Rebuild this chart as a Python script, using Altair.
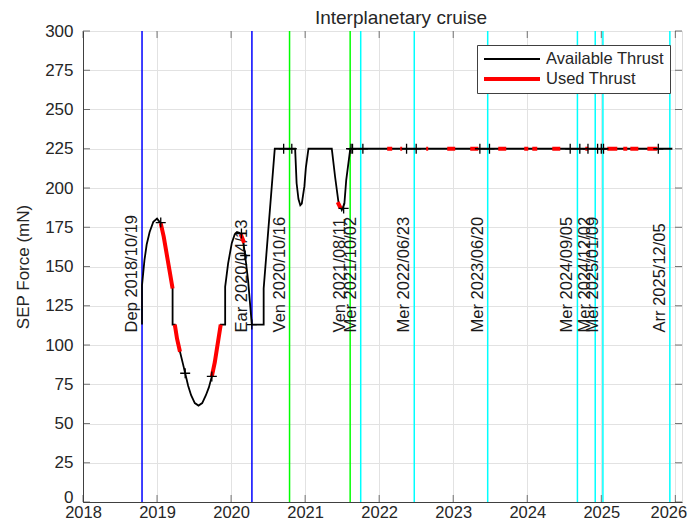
import altair as alt
import pandas as pd

FONT = "Liberation Sans"

# ---------------- data ----------------
# Available thrust (decimal year, mN)
avail_x = [2018.797, 2018.797, 2018.83, 2018.86, 2018.90, 2018.95, 2019.00, 2019.05, 2019.09,
           2019.13, 2019.17, 2019.21, 2019.21, 2019.24, 2019.27, 2019.31, 2019.35, 2019.38,
           2019.42, 2019.46, 2019.51, 2019.56, 2019.61, 2019.66, 2019.70, 2019.74, 2019.78,
           2019.81, 2019.86, 2019.92, 2019.92, 2019.96, 2020.01, 2020.05, 2020.08, 2020.11,
           2020.14, 2020.16, 2020.19, 2020.23, 2020.28, 2020.44, 2020.44, 2020.59, 2020.865,
           2020.885, 2020.91, 2020.935, 2020.955, 2020.99, 2021.01, 2021.045, 2021.36,
           2021.405, 2021.45, 2021.495, 2021.53, 2021.555, 2021.61, 2025.96]
avail_y = [113, 138, 154, 164, 172, 178.5, 180.5, 177.5, 169,
           158, 147, 136, 113, 113, 104, 95.7, 88, 82,
           74, 68, 63, 61.4, 63, 68, 73, 80, 89,
           98, 113, 113, 137, 152, 165, 170.5, 172, 171.5,
           170, 167, 157, 141, 113, 113, 136, 225, 225,
           203, 193, 189, 190, 201, 213, 225, 225,
           207, 191, 186, 190, 205, 225, 225]

# Used thrust on the curved part (segment id, decimal year, mN)
used_seg = [1, 1, 1, 1, 1, 2, 2, 2, 3, 3, 3, 3, 4, 4, 4, 5, 5]
used_x = [2019.05, 2019.09, 2019.13, 2019.17, 2019.21,
          2019.24, 2019.27, 2019.31,
          2019.74, 2019.78, 2019.81, 2019.86,
          2020.13, 2020.16, 2020.175,
          2021.44, 2021.48]
used_y = [177.5, 169, 158, 147, 136,
          113, 104, 95.7,
          80, 89, 98, 113,
          170.5, 167, 165,
          191, 187]

# Used thrust on the 225 mN plateau (start, end)
flat_start = [2022.108, 2022.284, 2022.635, 2022.919, 2023.230, 2023.608, 2023.959,
              2024.068, 2024.338, 2024.784, 2025.081, 2025.297, 2025.392, 2025.622]
flat_end = [2022.176, 2022.311, 2022.662, 2023.027, 2023.338, 2023.716, 2024.014,
            2024.135, 2024.446, 2024.824, 2025.216, 2025.351, 2025.500, 2025.757]
flat_level = 225

# '+' markers
mark_x = [2019.05, 2019.38, 2019.74, 2020.14, 2020.19, 2020.28, 2020.71, 2020.82, 2021.52,
          2021.62, 2021.64, 2021.78, 2022.37, 2022.50, 2023.36, 2023.49, 2024.58, 2024.71,
          2024.82, 2024.95, 2025.00, 2025.03, 2025.77]
mark_y = [178, 82, 80, 171, 157, 113, 225, 225, 187,
          225, 225, 225, 225, 225, 225, 225, 225, 225,
          225, 225, 225, 225, 225]

# Events
event_name = ["Dep", "Ear", "Ven", "Ven", "Mer", "Mer", "Mer", "Mer", "Mer", "Mer", "Arr"]
event_date = ["2018/10/19", "2020/04/13", "2020/10/16", "2021/08/11", "2021/10/02",
              "2022/06/23", "2023/06/20", "2024/09/05", "2024/12/02", "2025/01/09",
              "2025/12/05"]
event_color = ["#0000ff", "#0000ff", "#00ff00", "#00ff00", "#00ffff", "#00ffff",
               "#00ffff", "#00ffff", "#00ffff", "#00ffff", "#00ffff"]

title_text = "Interplanetary cruise"
x_ticks = list(range(2018, 2027))
y_ticks = list(range(0, 301, 25))
x_min, x_max = 2018, 2026.09
y_min, y_max = 0, 300
label_y = 108


def dec_year(s):
    t = pd.Timestamp(s.replace("/", "-"))
    start = pd.Timestamp(year=t.year, month=1, day=1)
    end = pd.Timestamp(year=t.year + 1, month=1, day=1)
    return t.year + (t - start) / (end - start)


# ---------------- tables ----------------
avail_df = pd.DataFrame({"x": avail_x, "y": avail_y, "series": "Available Thrust"})
rows = [dict(x=a, y=b, seg=s) for a, b, s in zip(used_x, used_y, used_seg)]
for i, (a, b) in enumerate(zip(flat_start, flat_end)):
    rows.append(dict(x=a, y=flat_level, seg=100 + i))
    rows.append(dict(x=b, y=flat_level, seg=100 + i))
used_df = pd.DataFrame(rows)
used_df["series"] = "Used Thrust"
mark_df = pd.DataFrame({"x": mark_x, "y": mark_y})
ev_df = pd.DataFrame({
    "x": [dec_year(d) for d in event_date],
    "label": [f"{n} {d}" for n, d in zip(event_name, event_date)],
    "col": event_color,
})
title_df = pd.DataFrame({"t": [title_text]})

# ---------------- encodings ----------------
x_scale = alt.Scale(domain=[x_min, x_max], nice=False, zero=False)
y_scale = alt.Scale(domain=[y_min, y_max], nice=False, zero=False)
x_axis = alt.Axis(values=x_ticks, format="d", title=None, grid=True, ticks=False,
                  labelFontSize=16.5, labelPadding=2, labelFont=FONT, labelColor="#262626",
                  domainColor="#404040", gridColor="#e2e2e2", labelFlush=False,
                  labelOffset={"condition": {"test": "datum.value >= 2026", "value": -7},
                               "value": 0})
y_axis = alt.Axis(values=y_ticks, title="SEP Force (mN)", grid=True, ticks=False,
                  labelFontSize=17, labelPadding=10, labelFont=FONT, labelColor="#262626",
                  titleFont=FONT, titleFontSize=17, titleFontWeight="normal",
                  titleColor="#262626", titlePadding=12,
                  domainColor="#404040", gridColor="#e2e2e2",
                  labelOffset={"condition": {"test": "datum.value == 0", "value": -5},
                               "value": 0})
X = alt.X("x:Q", scale=x_scale, axis=x_axis)
Y = alt.Y("y:Q", scale=y_scale, axis=y_axis)

color_scale = alt.Scale(domain=["Available Thrust", "Used Thrust"], range=["#000000", "#ff0000"])
sw_scale = alt.Scale(domain=["Available Thrust", "Used Thrust"], range=[1.8, 4])
legend = alt.Legend(title=None, orient="none", legendX=394, legendY=14,
                    symbolType="stroke", symbolSize=3136, clipHeight=18, rowPadding=2,
                    labelFontSize=16.5, labelFont=FONT, labelColor="#262626",
                    labelOffset=4, padding=5, fillColor="white", strokeColor="#404040",
                    labelExpr="datum.label + '\u00a0\u00a0\u00a0\u00a0\u00a0\u00a0\u00a0'")
C = alt.Color("series:N", scale=color_scale, legend=legend)
SW = alt.StrokeWidth("series:N", scale=sw_scale, legend=legend)

# ---------------- layers ----------------
rules = alt.Chart(ev_df).mark_rule(strokeWidth=1.5).encode(
    x=X, color=alt.Color("col:N", scale=None))

labels = alt.Chart(ev_df).mark_text(angle=270, align="left", baseline="alphabetic", dy=-5,
                                    fontSize=16.5, font=FONT, color="#1a1a1a").encode(
    x=X, y=alt.YDatum(label_y, scale=y_scale, axis=y_axis), text="label:N")

avail = alt.Chart(avail_df).mark_line(strokeCap="butt").encode(
    x=X, y=Y, color=C, strokeWidth=SW, order="idx:Q").transform_window(idx="row_number()")

used = alt.Chart(used_df).mark_line(strokeCap="butt").encode(
    x=X, y=Y, color=C, strokeWidth=SW, detail="seg:N")

plus = alt.Chart(mark_df).mark_point(shape="M-1,0L1,0M0,-1L0,1", filled=False, size=100,
                                     color="black", strokeWidth=1.3, opacity=1).encode(x=X, y=Y)

bt = pd.DataFrame({"x": x_ticks})
lt = pd.DataFrame({"y": y_ticks})
tick_b = alt.Chart(bt).mark_tick(orient="vertical", size=7, thickness=1, color="#404040",
                                 yOffset=-3.5).encode(x=X, y=alt.YDatum(y_min, scale=y_scale, axis=y_axis))
tick_t = alt.Chart(bt).mark_tick(orient="vertical", size=7, thickness=1, color="#404040",
                                 yOffset=3.5).encode(x=X, y=alt.YDatum(y_max, scale=y_scale, axis=y_axis))
tick_l = alt.Chart(lt).mark_tick(orient="horizontal", size=7, thickness=1, color="#404040",
                                 xOffset=3.5).encode(y=Y, x=alt.XDatum(x_min, scale=x_scale, axis=x_axis))
tick_r = alt.Chart(lt).mark_tick(orient="horizontal", size=7, thickness=1, color="#404040",
                                 xOffset=-3.5).encode(y=Y, x=alt.XDatum(x_max, scale=x_scale, axis=x_axis))

title = alt.Chart(title_df).mark_text(align="center", baseline="alphabetic", dx=18.5, dy=-7,
                                      fontSize=19, font=FONT, color="#262626").encode(
    x=alt.XDatum((x_min + x_max) / 2, scale=x_scale, axis=x_axis),
    y=alt.YDatum(y_max, scale=y_scale, axis=y_axis), text="t:N")

chart = alt.layer(rules, labels, avail, used, plus, tick_b, tick_t, tick_l, tick_r, title).properties(
    width=599, height=471,
    autosize=alt.AutoSizeParams(type="none"),
    padding={"left": 75, "top": 23, "right": 6, "bottom": 17},
).configure_view(stroke="#404040", strokeWidth=1).configure(background="white")

chart.save("out.html", embed_options={"renderer": "svg", "actions": False})
